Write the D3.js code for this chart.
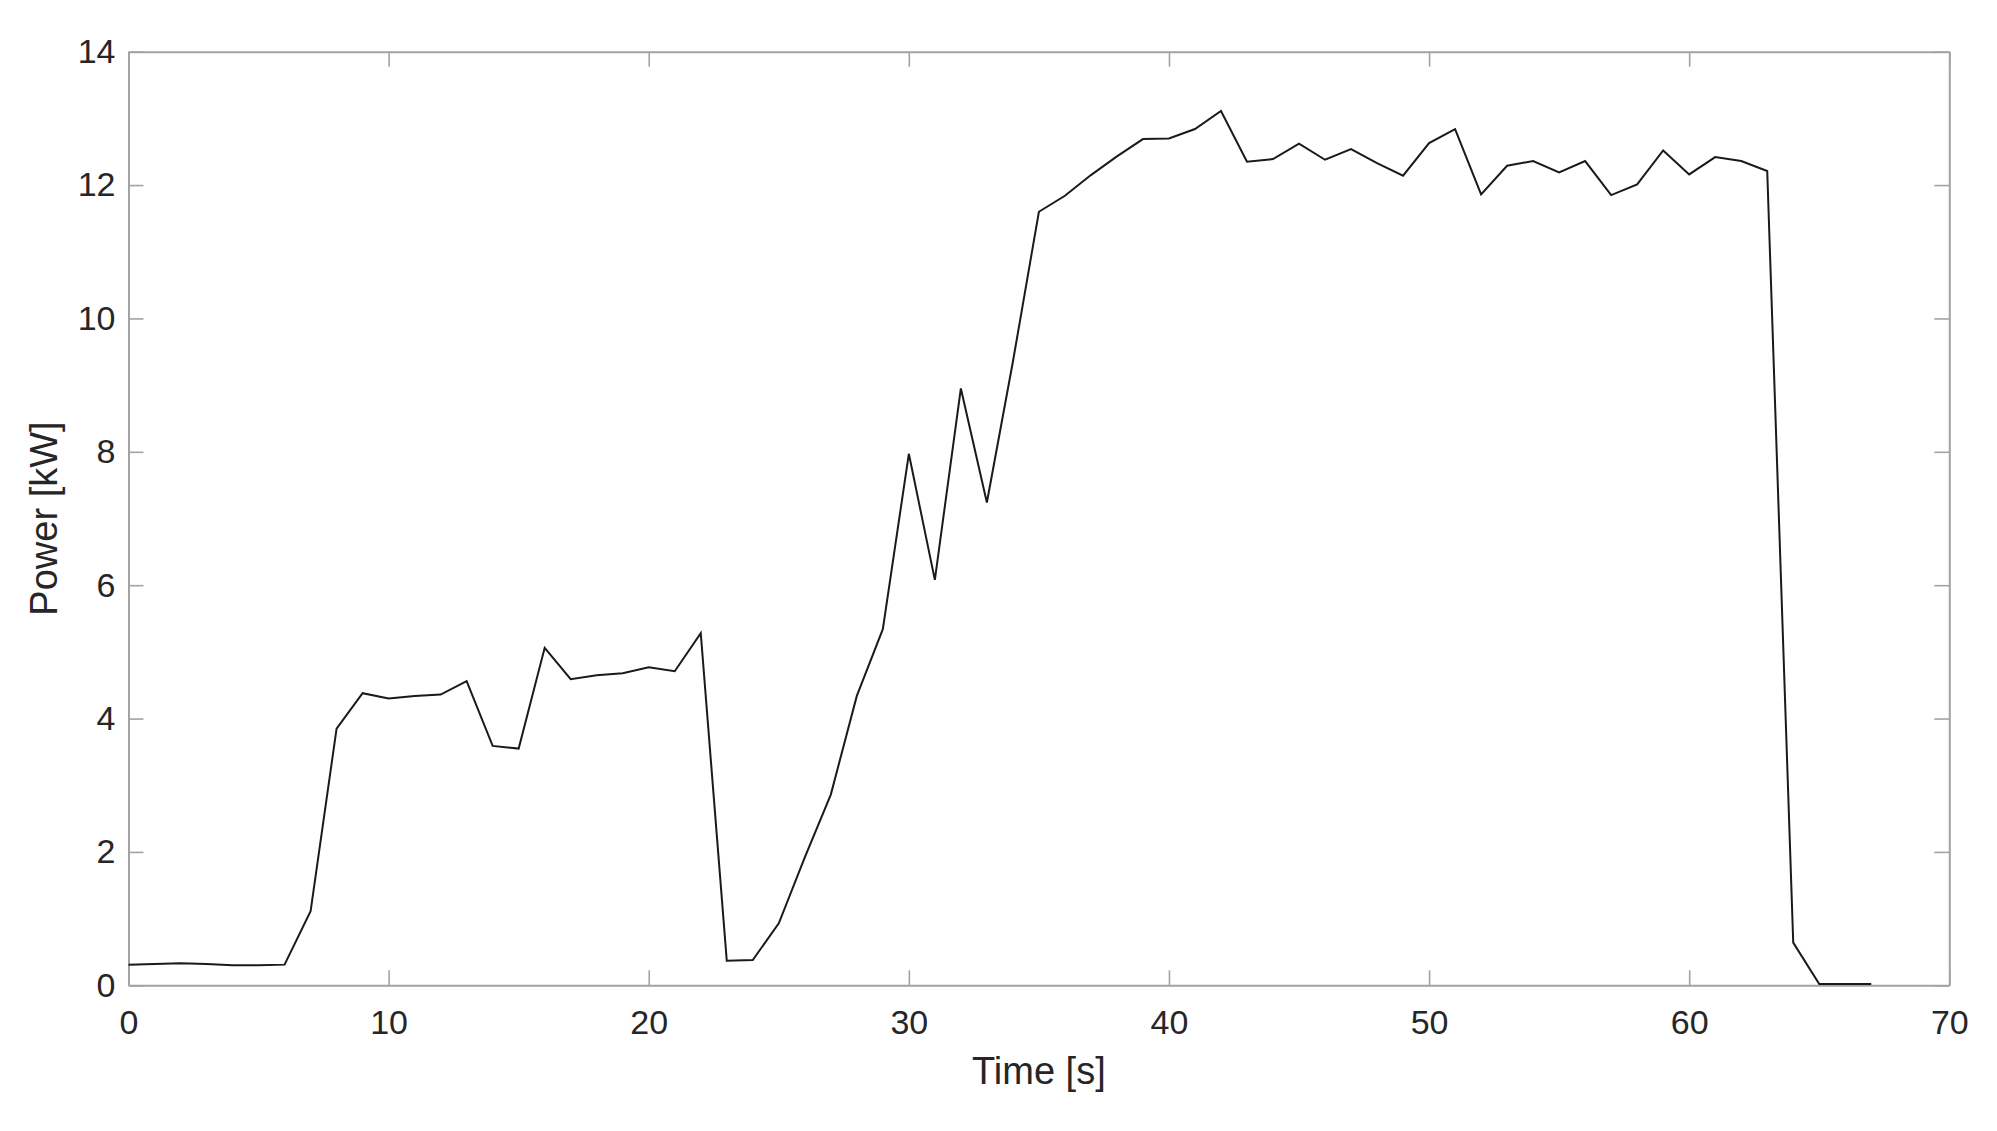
<!DOCTYPE html>
<html>
<head>
<meta charset="utf-8">
<script src="https://cdn.jsdelivr.net/npm/d3@7"></script>
<style>
  body { margin: 0; background: #fff; }
  svg text { font-family: "Liberation Sans", Arial, Helvetica, sans-serif; fill: #262626; }
</style>
</head>
<body>
<div id="chart"></div>
<script>
// time in seconds, one sample per second
var time = d3.range(0, 68);

// power in kW
var power = [
  0.31, 0.32, 0.33, 0.32, 0.30, 0.30, 0.31, 1.11, 3.85, 4.38,
  4.30, 4.34, 4.36, 4.56, 3.59, 3.55, 5.06, 4.59, 4.65, 4.68,
  4.77, 4.71, 5.28, 0.37, 0.38, 0.93, 1.92, 2.86, 4.34, 5.34,
  7.97, 6.08, 8.95, 7.24, 9.35, 11.60, 11.84, 12.15, 12.43, 12.69,
  12.70, 12.84, 13.11, 12.35, 12.39, 12.62, 12.38, 12.54, 12.33, 12.14,
  12.63, 12.84, 11.86, 12.29, 12.36, 12.19, 12.36, 11.85, 12.01, 12.52,
  12.16, 12.42, 12.36, 12.21, 0.64, 0.02, 0.02, 0.02
];

var xTicks = [0, 10, 20, 30, 40, 50, 60, 70];
var yTicks = [0, 2, 4, 6, 8, 10, 12, 14];

var width = 1997, height = 1131;
var margin = {top: 51.7, right: 47.7, bottom: 145.7, left: 128.5};
var w = width - margin.left - margin.right,
    h = height - margin.top - margin.bottom;

var svg = d3.select("#chart").append("svg")
    .attr("width", width)
    .attr("height", height);

var g = svg.append("g")
    .attr("transform", "translate(" + margin.left + "," + margin.top + ")");

var x = d3.scaleLinear().domain([0, 70]).range([0, w]);
var y = d3.scaleLinear().domain([0, 14]).range([h, 0]);

// axes, ticks pointing inward on all four sides
var axisColor = "#a3a3a3";

var xb = g.append("g")
    .attr("transform", "translate(0," + h + ")")
    .call(d3.axisBottom(x).tickValues(xTicks).tickSizeInner(-15).tickSizeOuter(0).tickPadding(25));
var xt = g.append("g")
    .call(d3.axisTop(x).tickValues(xTicks).tickSizeInner(-15).tickSizeOuter(0).tickFormat(""));
var yl = g.append("g")
    .call(d3.axisLeft(y).tickValues(yTicks).tickSizeInner(-15).tickSizeOuter(0).tickPadding(13));
var yr = g.append("g")
    .attr("transform", "translate(" + w + ",0)")
    .call(d3.axisRight(y).tickValues(yTicks).tickSizeInner(-15).tickSizeOuter(0).tickFormat(""));

[xb, xt, yl, yr].forEach(function(a) {
  a.select(".domain").attr("stroke", axisColor).attr("stroke-width", 2);
  a.selectAll(".tick line").attr("stroke", axisColor).attr("stroke-width", 1.6);
  a.selectAll(".tick text")
    .attr("font-size", 34)
    .attr("fill", "#262626")
    .style("font-family", "'Liberation Sans', Arial, sans-serif");
});

// data line
var line = d3.line()
    .x(function(d, i) { return x(time[i]); })
    .y(function(d) { return y(d); });

g.append("path")
    .datum(power)
    .attr("fill", "none")
    .attr("stroke", "#1a1a1a")
    .attr("stroke-width", 2)
    .attr("stroke-linejoin", "miter")
    .attr("d", line);

// axis labels
svg.append("text")
    .attr("x", margin.left + w / 2)
    .attr("y", 1084)
    .attr("text-anchor", "middle")
    .attr("font-size", 38)
    .text("Time [s]");

svg.append("text")
    .attr("transform", "translate(57," + (margin.top + h / 2) + ") rotate(-90)")
    .attr("text-anchor", "middle")
    .attr("font-size", 38)
    .text("Power [kW]");
</script>
</body>
</html>
